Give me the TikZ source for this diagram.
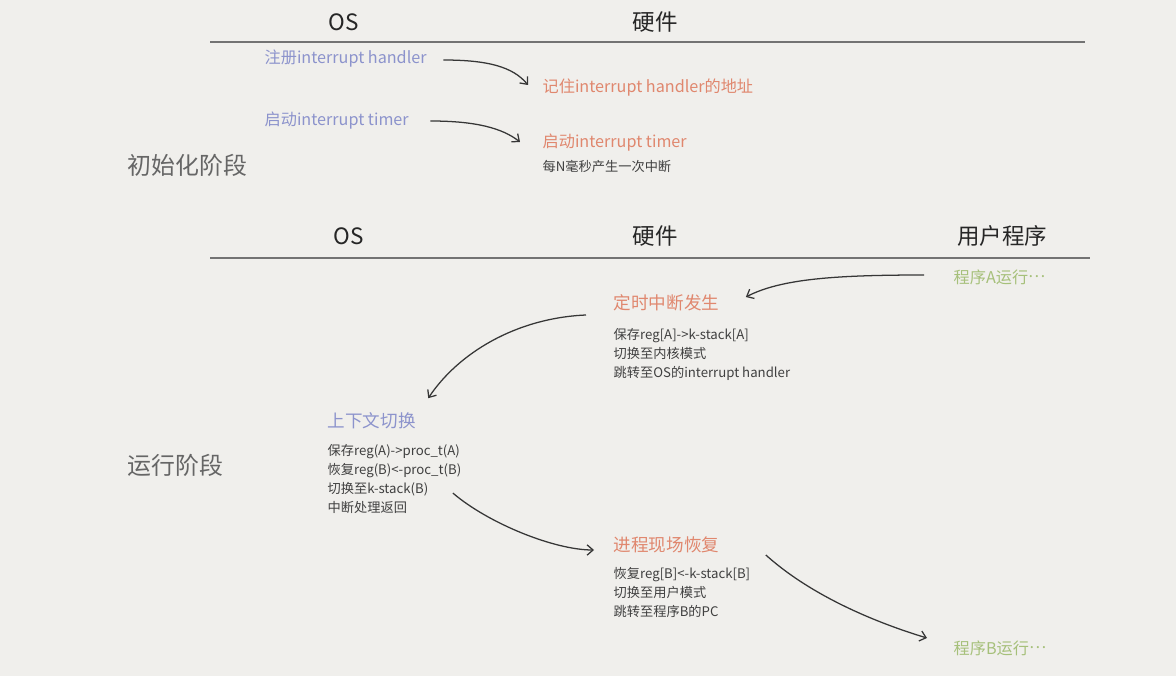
\documentclass[tikz,border=0pt]{standalone}
\usepackage{fontspec}
\setmainfont{Noto Sans CJK SC}
\usetikzlibrary{arrows.meta,positioning,calc}
\definecolor{paper}{HTML}{F0EFEC}
\definecolor{osblue}{HTML}{8C93CC}
\definecolor{hwred}{HTML}{E0876E}
\definecolor{usrgreen}{HTML}{A6C07A}
\definecolor{ink}{HTML}{363636}
\newcommand{\middots}{\raisebox{0.33em}{…}}
\tikzset{
  flowarr/.style={-{Straight Barb[length=1.5mm, width=2.6mm]}, line width=0.9pt, draw=ink},
  sepline/.style={line width=0.9pt, draw=black!55},
  colhead/.style={font=\fontsize{16}{18}\selectfont, text=black!85},
  phase/.style={font=\fontsize{17}{20}\selectfont, text=black!60, anchor=west},
}

\begin{document}
\begin{tikzpicture}[
  x=0.025cm, y=-0.025cm,
  oslbl/.style={font=\fontsize{11.5}{13}\selectfont, text=osblue, anchor=west, inner sep=1pt},
  hwlbl/.style={font=\fontsize{11.5}{13}\selectfont, text=hwred, anchor=west, inner sep=1pt},
  usrlbl/.style={font=\fontsize{11.5}{13}\selectfont, text=usrgreen, anchor=west, inner sep=1pt},
  oshead/.style={font=\fontsize{12.5}{15}\selectfont, text=osblue, anchor=west, inner sep=1pt},
  hwhead/.style={font=\fontsize{12.5}{15}\selectfont, text=hwred, anchor=west, inner sep=1pt},
  note/.style={font=\fontsize{9.4}{13.5}\selectfont, text=black!75, align=left, inner sep=1pt},
]
  \fill[paper] (0,0) rectangle (1176,676);
  \useasboundingbox (0,0) rectangle (1176,676);

  % init phase
  \node[colhead] (os1) at (344,22) {OS};
  \node[colhead] (hw1) at (655,22) {硬件};
  \draw[sepline] (210,42) -- (1085,42);
  \node[phase] (init) at (123,165) {初始化阶段};

  \node[oslbl] (reg) at (263,59) {注册interrupt handler};
  \node[hwlbl] (remember) at (541,88) {记住interrupt handler的地址};
  \node[oslbl] (start) at (263,121) {启动interrupt timer};
  \node[hwlbl] (timeron) at (541,143) {启动interrupt timer};
  \node[note, below=4pt of timeron.south west, anchor=north west] (tick) {每N毫秒产生一次中断};

  \draw[flowarr] ($(reg.east)+(15,1)$) .. controls +(45,0) and +(-15,-18) .. ($(remember.west)+(-13,-3)$);
  \draw[flowarr] ($(start.east)+(20,0)$) .. controls +(45,0) and +(-18,-14) .. ($(timeron.west)+(-21,-1)$);

  % run phase
  \node[colhead] (os2) at (349,236) {OS};
  \node[colhead] (hw2) at (655,236) {硬件};
  \node[colhead] (usr2) at (1002,236) {用户程序};
  \draw[sepline] (210,258) -- (1090,258);
  \node[phase] (run) at (123,465) {运行阶段};

  \node[usrlbl] (runa) at (952,277) {程序A运行\middots};
  \node[hwhead] (timer) at (612,303) {定时中断发生};
  \node[note, below=10pt of timer.south west, anchor=north west] (timernote) {保存reg[A]->k-stack[A]\\切换至内核模式\\跳转至OS的interrupt handler};
  \node[oshead] (ctx) at (326,421) {上下文切换};
  \node[note, below=8.5pt of ctx.south west, anchor=north west] (ctxnote) {保存reg(A)->proc\_t(A)\\恢复reg(B)<-proc\_t(B)\\切换至k-stack(B)\\中断处理返回};
  \node[hwhead] (restore) at (612,545) {进程现场恢复};
  \node[note, below=7.5pt of restore.south west, anchor=north west] (restorenote) {恢复reg[B]<-k-stack[B]\\切换至用户模式\\跳转至程序B的PC};
  \node[usrlbl] (runb) at (952,648) {程序B运行\middots};

  \draw[flowarr] ($(runa.west)+(-28,-2)$) .. controls +(-90,0) and +(35,-18) .. ($(timer.east)+(25,-6)$);
  \draw[flowarr] ($(timer.west)+(-26,12)$) .. controls +(-70,3) and +(30,-45) .. ($(ctx.north east)+(11,-13)$);
  \draw[flowarr] ($(ctxnote.east)+(-10,14)$) .. controls +(35,30) and +(-40,0) .. ($(restore.west)+(-18,5)$);
  \draw[flowarr] ($(restore.east)+(45,10)$) .. controls +(50,45) and +(-40,-12) .. ($(runb.west)+(-25,-10)$);
\end{tikzpicture}
\end{document}
